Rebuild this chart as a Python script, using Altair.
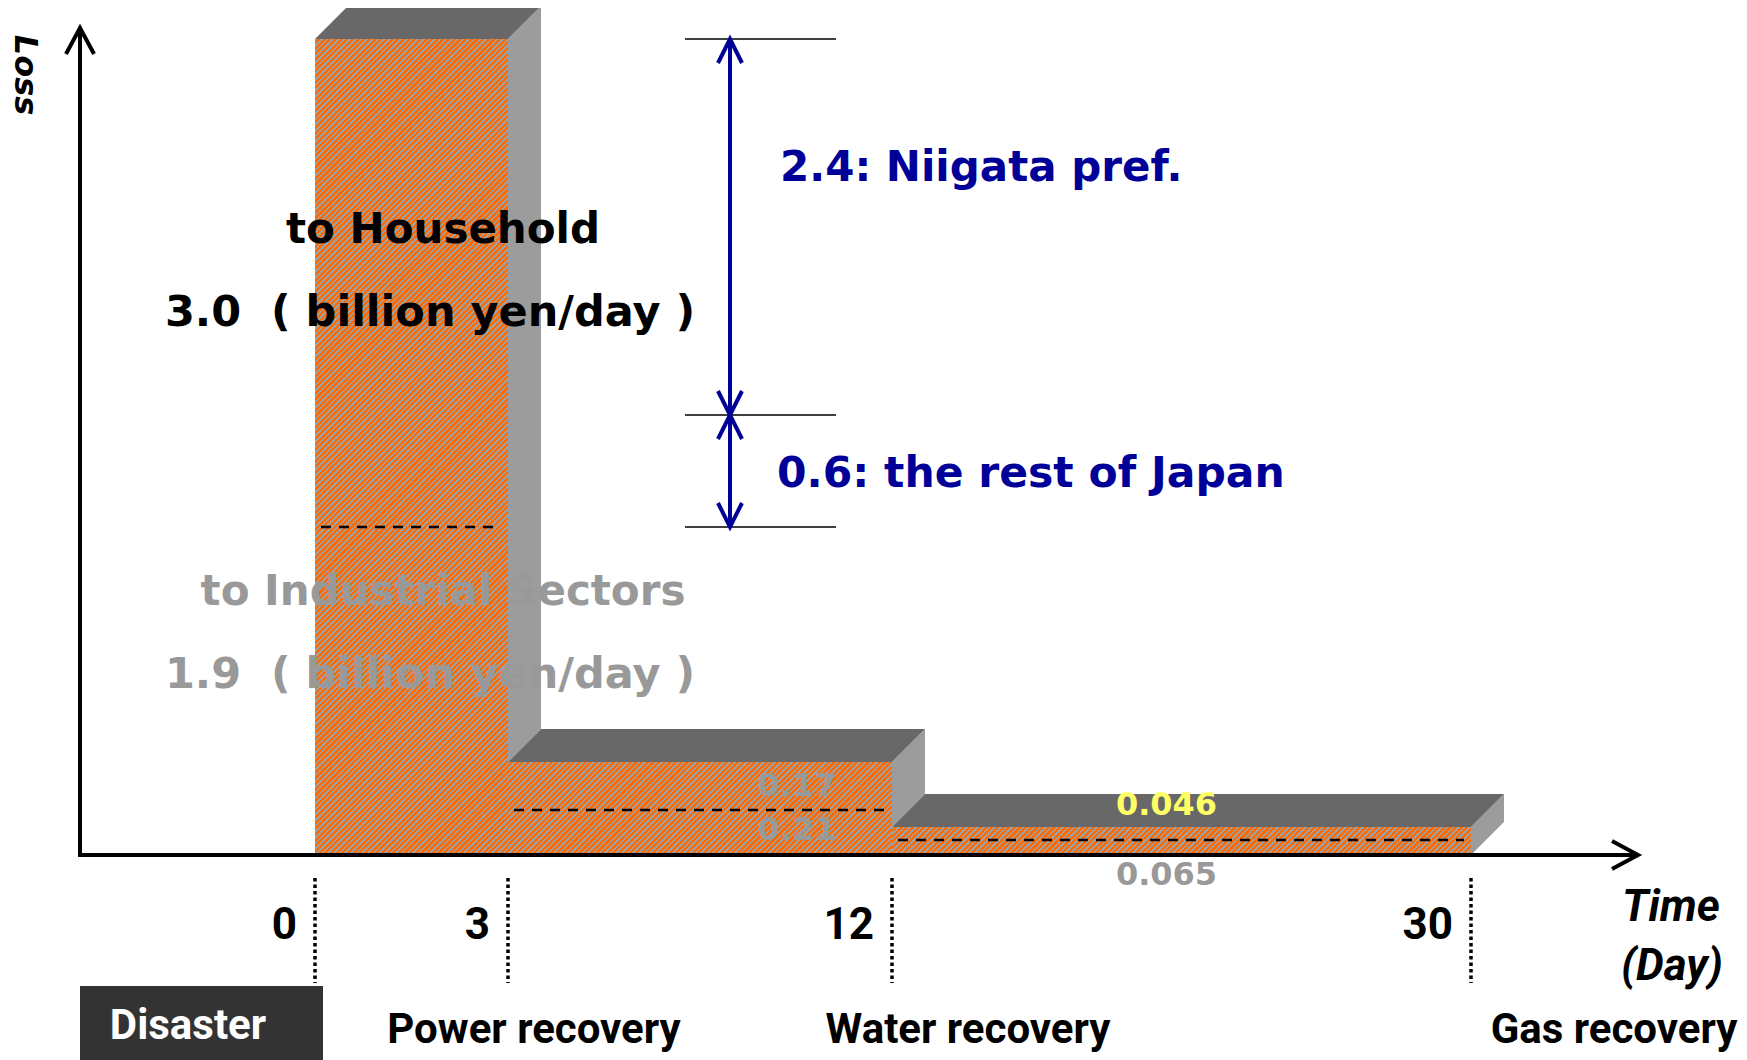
import math
import altair as alt
import pandas as pd

# ---------------- data ----------------
DAYS = [0, 3, 12, 30]
DAY_LABELS = ["0", "3", "12", "30"]
EVENTS = ["Disaster", "Power recovery", "Water recovery", "Gas recovery"]
SEG_START = [0, 3, 12]
SEG_END = [3, 12, 30]
LOSS_HOUSEHOLD = [3.0, 0.17, 0.046]   # upper part of each step (billion yen/day)
LOSS_INDUSTRY = [1.9, 0.21, 0.065]    # lower part of each step (billion yen/day)
NIIGATA = 2.4
REST_OF_JAPAN = 0.6

TOPS = [h + i for h, i in zip(LOSS_HOUSEHOLD, LOSS_INDUSTRY)]
SPLIT = LOSS_INDUSTRY[0] + REST_OF_JAPAN

# ---------------- layout / style ----------------
M = 8
def P(v):
    return v - M

W, H = 1731, 1052
ORANGE = "#FF6A00"
STRIPE_GRAY = "#A0A0A0"
TOP_FILL = "#686868"
SIDE_FILL = "#9C9C9C"
NAVY = "#000099"
GRAY = "#999999"
YELLOW = "#FFFF66"
DEPTH = 33
SANS = "DejaVu Sans"
NARROW = "Roboto"

# schematic (non-proportional) axes as piecewise-linear scales
X_RANGE = [P(315), P(508), P(892), P(1471)]
XS = alt.Scale(domain=DAYS, range=X_RANGE, zero=False, nice=False)
Y_DOMAIN = [0, LOSS_INDUSTRY[2], TOPS[2], LOSS_INDUSTRY[1], TOPS[1], LOSS_INDUSTRY[0], SPLIT, TOPS[0]]
Y_RANGE = [P(855), P(840), P(827), P(810), P(762), P(527), P(415), P(39)]
YS = alt.Scale(domain=Y_DOMAIN, range=Y_RANGE, zero=False, nice=False)
Y_PIX = dict(zip(Y_DOMAIN, Y_RANGE))
X_PIX = dict(zip(DAYS, X_RANGE))

def X(field):
    return alt.X(field, scale=XS, axis=None)

def Y(field):
    return alt.Y(field, scale=YS, axis=None)

def stripes(w, h, period=4.0):
    """diagonal hatch as a sharp-stop linear gradient (style only)"""
    n = (w + h) / (period * math.sqrt(2))
    k = (w + h) / (w * w + h * h)
    stops = []
    j = 0
    while j / n < 1:
        a, b, c = j / n, min((j + 0.45) / n, 1), min((j + 1) / n, 1)
        stops += [{"offset": a, "color": STRIPE_GRAY}, {"offset": b, "color": STRIPE_GRAY},
                  {"offset": b, "color": ORANGE}, {"offset": c, "color": ORANGE}]
        j += 1
    return {"gradient": "linear", "x1": 0, "y1": 0, "x2": w * k, "y2": h * k, "stops": stops}

layers = []

# front faces of the steps (one layer per step so each gets its own hatch)
for k in range(len(SEG_START)):
    df = pd.DataFrame({"start": [SEG_START[k]], "end": [SEG_END[k]], "top": [TOPS[k]], "base": [0]})
    w = X_PIX[SEG_END[k]] - X_PIX[SEG_START[k]]
    h = Y_PIX[0] - Y_PIX[TOPS[k]]
    layers.append(alt.Chart(df).mark_rect(fill=stripes(w, h)).encode(
        x=X("start:Q"), x2="end:Q", y=Y("top:Q"), y2="base:Q"))

# 3-D faces: back edge = front edge shifted DEPTH px up-right (through the scales)
nexts = TOPS[1:] + [0]
top_df = pd.DataFrame({
    "face": [k for k in range(3) for _ in (0, 1)],
    "back": [b for _ in range(3) for b in (0, 1)],
    "start": [SEG_START[k] for k in range(3) for _ in (0, 1)],
    "end": [SEG_END[k] for k in range(3) for _ in (0, 1)],
    "top": [TOPS[k] for k in range(3) for _ in (0, 1)],
})
side_df = pd.DataFrame({
    "face": [k for k in range(3) for _ in (0, 1)],
    "back": [b for _ in range(3) for b in (0, 1)],
    "end": [SEG_END[k] for k in range(3) for _ in (0, 1)],
    "top": [TOPS[k] for k in range(3) for _ in (0, 1)],
    "nxt": [nexts[k] for k in range(3) for _ in (0, 1)],
})
dx = f"{DEPTH} * datum.back"
layers.append(alt.Chart(side_df).transform_calculate(
    xs=f"invert('x', scale('x', datum.end) + {dx})",
    yh=f"invert('y', scale('y', datum.top) - {dx})",
    yl=f"invert('y', scale('y', datum.nxt) - {dx})",
).mark_area(orient="vertical", color=SIDE_FILL, opacity=1).encode(
    x=X("xs:Q"), y=Y("yh:Q"), y2="yl:Q", detail="face:N"))
layers.append(alt.Chart(top_df).transform_calculate(
    yv=f"invert('y', scale('y', datum.top) - {dx})",
    xa=f"invert('x', scale('x', datum.start) + {dx})",
    xb=f"invert('x', scale('x', datum.end) + {dx})",
).mark_area(orient="horizontal", color=TOP_FILL, opacity=1).encode(
    y=Y("yv:Q"), x=X("xa:Q"), x2="xb:Q", detail="face:N"))

# dashed split lines inside the steps
bars_df = pd.DataFrame({"start": SEG_START, "end": SEG_END, "ind": LOSS_INDUSTRY})
layers.append(
    alt.Chart(bars_df).mark_rule(color="black", strokeWidth=2.7, strokeDash=[10, 8],
                                 xOffset=6, x2Offset=-7).encode(
        x=X("start:Q"), x2="end:Q", y=Y("ind:Q"))
)

# axes
zero_df = pd.DataFrame({"level": [0]})
layers.append(alt.Chart(zero_df).mark_rule(color="black", strokeWidth=4).encode(
    x=alt.value(P(80)), x2=alt.value(P(1636)), y=Y("level:Q")))
layers.append(alt.Chart(zero_df).mark_rule(color="black", strokeWidth=4).encode(
    x=alt.value(P(80)), y=alt.value(P(30)), y2=alt.value(P(857))))
layers.append(alt.Chart(zero_df).mark_point(
    shape="M -0.54 1 L 0 0 L 0.54 1", size=2704, filled=False, color="black",
    strokeWidth=4, opacity=1, strokeJoin="miter").encode(
    x=alt.value(P(80)), y=alt.value(P(28))))
layers.append(alt.Chart(zero_df).mark_point(
    shape="M -1 -0.54 L 0 0 L -1 0.54", size=2704, filled=False, color="black",
    strokeWidth=4, opacity=1, strokeJoin="miter").encode(
    x=alt.value(P(1638)), y=Y("level:Q")))

# dotted day markers and day numbers
ticks_df = pd.DataFrame({"day": DAYS, "lab": DAY_LABELS})
layers.append(alt.Chart(ticks_df).mark_rule(color="black", strokeWidth=3.5, strokeDash=[3.5, 3]).encode(
    x=X("day:Q"), y=alt.value(P(878)), y2=alt.value(P(983))))
layers.append(alt.Chart(ticks_df).mark_text(
    font=NARROW, fontSize=44, fontWeight="bold", align="right", baseline="middle", dx=-18,
    color="black").encode(x=X("day:Q"), y=alt.value(P(926)), text="lab:N"))

# boundary lines and double arrows (Niigata / rest of Japan)
bound_df = pd.DataFrame({"level": [TOPS[0], SPLIT, LOSS_INDUSTRY[0]]})
layers.append(alt.Chart(bound_df).mark_rule(color="black", strokeWidth=1.5).encode(
    x=alt.value(P(685)), x2=alt.value(P(836)), y=Y("level:Q")))
arr_df = pd.DataFrame({"frm": [TOPS[0], SPLIT], "to": [SPLIT, LOSS_INDUSTRY[0]]})
layers.append(alt.Chart(arr_df).mark_rule(color=NAVY, strokeWidth=4).encode(
    x=alt.value(P(730)), y=Y("frm:Q"), y2="to:Q"))
layers.append(alt.Chart(arr_df).mark_point(
    shape="M -0.5 1 L 0 0 L 0.5 1", size=2304, filled=False, color=NAVY,
    strokeWidth=4, opacity=1, strokeJoin="miter").encode(
    x=alt.value(P(730)), y=Y("frm:Q")))
layers.append(alt.Chart(arr_df).mark_point(
    shape="M -0.5 -1 L 0 0 L 0.5 -1", size=2304, filled=False, color=NAVY,
    strokeWidth=4, opacity=1, strokeJoin="miter").encode(
    x=alt.value(P(730)), y=Y("to:Q")))

# value labels on the small steps
def val_text(txt, day, level, dx_, dy_, color):
    df = pd.DataFrame({"t": [txt], "day": [day], "level": [level]})
    return alt.Chart(df).mark_text(font=SANS, fontSize=32, fontWeight="bold", color=color,
                                   align="center", baseline="middle", dx=dx_, dy=dy_).encode(
        x=X("day:Q"), y=Y("level:Q"), text="t:N")

mid3 = (SEG_START[2] + SEG_END[2]) / 2
layers.append(val_text(f"{LOSS_HOUSEHOLD[1]:g}", SEG_END[1], LOSS_INDUSTRY[1] + LOSS_HOUSEHOLD[1] / 2, -95, 0, GRAY))
layers.append(val_text(f"{LOSS_INDUSTRY[1]:g}", SEG_END[1], LOSS_INDUSTRY[1] / 2, -95, 1, GRAY))
layers.append(val_text(f"{LOSS_HOUSEHOLD[2]:g}", mid3, TOPS[2], -15, -22, YELLOW))
layers.append(val_text(f"{LOSS_INDUSTRY[2]:g}", mid3, 0, -15, 20, GRAY))

# free annotation text
def label(txt, x, y, size, color="black", font=SANS, style="normal", align="center", angle=0):
    df = pd.DataFrame({"t": [txt]})
    return alt.Chart(df).mark_text(font=font, fontSize=size, fontWeight="bold", fontStyle=style,
                                   color=color, align=align, baseline="middle", angle=angle).encode(
        x=alt.value(x), y=alt.value(y), text="t:N")

layers.append(label("to Household", P(443), P(230), 42))
layers.append(label(f"{LOSS_HOUSEHOLD[0]:.1f}\u00a0 ( billion yen/day )", P(430), P(313), 43))
layers.append(label("to Industrial Sectors", P(443), P(592), 42, color=GRAY))
layers.append(label(f"{LOSS_INDUSTRY[0]:.1f}\u00a0 ( billion yen/day )", P(430), P(675), 43, color=GRAY))
layers.append(label(f"{NIIGATA}: Niigata pref.", P(780), P(168), 42, color=NAVY, align="left"))
layers.append(label(f"{REST_OF_JAPAN}: the rest of Japan", P(777), P(474), 42.5, color=NAVY, align="left"))
layers.append(label("Loss", P(25), P(75), 32, style="italic", angle=90))
layers.append(label("Time", P(1671), P(908), 44, font=NARROW, style="italic"))
layers.append(label("(Day)", P(1672), P(967), 44, font=NARROW, style="italic"))

# event row
layers.append(alt.Chart(pd.DataFrame({"e": [EVENTS[0]]})).mark_rect(color="#333333").encode(
    x=alt.value(P(80)), x2=alt.value(P(323)), y=alt.value(P(986)), y2=alt.value(P(1060))))
layers.append(label(EVENTS[0], P(188), P(1026), 42, color="white", font=NARROW))
for ev, cx in zip(EVENTS[1:], [534, 968, 1614]):
    layers.append(label(ev, P(cx), P(1030), 42, font=NARROW))

chart = alt.layer(*layers).properties(
    width=W, height=H, padding=0, autosize=alt.AutoSizeParams(type="none"),
    background="white",
).configure_view(strokeWidth=0)

chart.save("out.html", embed_options={"renderer": "svg", "actions": False})
